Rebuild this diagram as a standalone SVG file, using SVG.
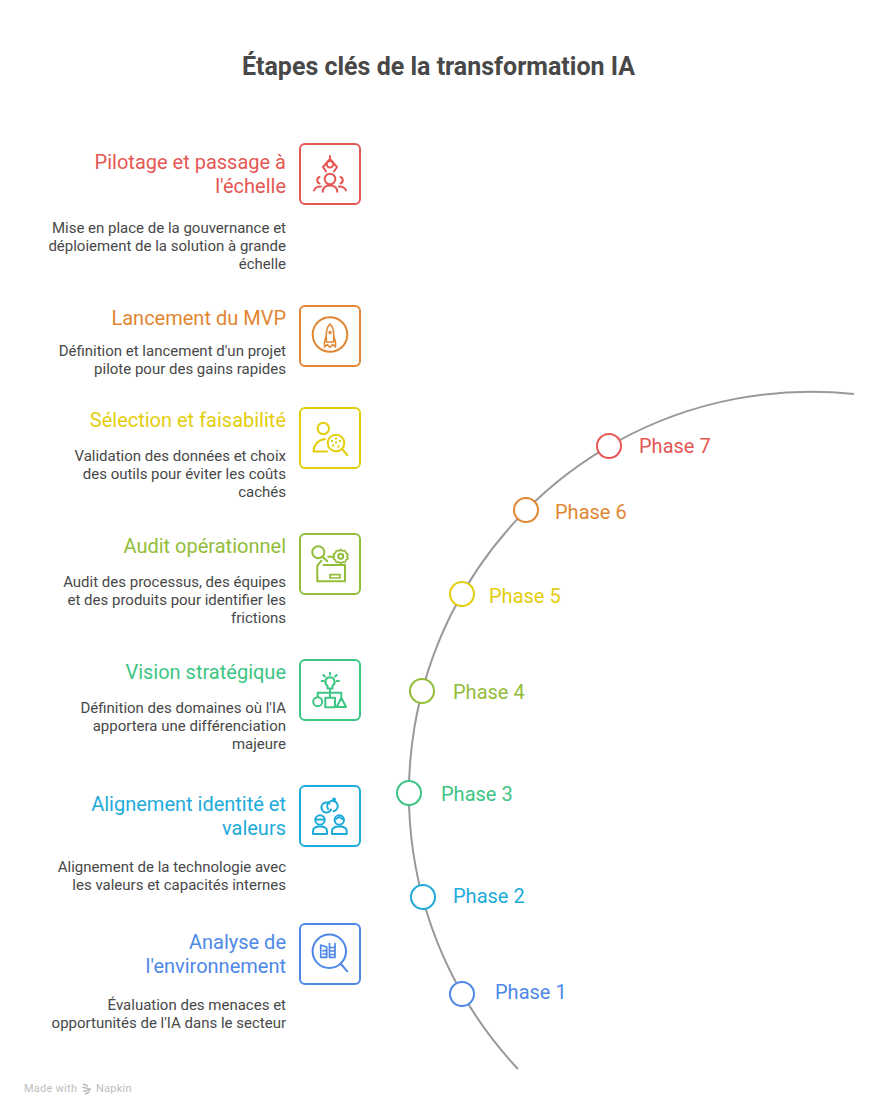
<svg xmlns="http://www.w3.org/2000/svg" width="877" height="1116" viewBox="0 0 877 1116">
<style>
text{font-family:Roboto,"Liberation Sans",sans-serif}
.title{font-size:25px;font-weight:700;fill:#484848;text-anchor:middle}
.h{font-size:20px;text-anchor:end}
.d{font-size:15px;fill:#484848;text-anchor:end}
.p{font-size:20px}
.box{fill:#fff;stroke-width:2}
.ic{fill:none;stroke-width:2;stroke-linecap:round;stroke-linejoin:round}
.dot{fill:#fff;stroke-width:2}
.c1{stroke:#e55753}.c2{stroke:#e18632}.c3{stroke:#e4cd0d}.c4{stroke:#92bd39}.c5{stroke:#3cc583}.c6{stroke:#1eabda}.c7{stroke:#4e88e7}
.t1{fill:#e55753}.t2{fill:#e18632}.t3{fill:#e4cd0d}.t4{fill:#92bd39}.t5{fill:#3cc583}.t6{fill:#1eabda}.t7{fill:#4e88e7}
</style>
<rect width="877" height="1116" fill="#fff"/>
<text class="title" x="438.500" y="75">Étapes clés de la transformation IA</text>
<g id="connectors"><path d="M854 394A402 402 0 0 0 518 1069" fill="none" stroke="#999" stroke-width="2"/></g>

<g id="step-pilotage">
<text class="h t1" x="286" y="169">Pilotage et passage à</text><text class="h t1" x="286" y="193">l'échelle</text>
<text class="d" x="286" y="233">Mise en place de la gouvernance et</text><text class="d" x="286" y="251">déploiement de la solution à grande</text><text class="d" x="286" y="269">échelle</text>
<rect class="box c1" x="300" y="144" width="60" height="60" rx="5"/>
<g class="ic c1" transform="translate(290 135)">
<circle cx="40" cy="29.300" r="3.300"/><path d="M40 21V26M40 24L33 32L36 36.500M40 24L47 32L44 36.500"/>
<circle cx="40" cy="44" r="5.300"/><path d="M32.700 56.700C33 52 36 50.500 40 50.500C44 50.500 47 52 47.300 56.700"/>
<path d="M29.500 42C26.500 43 26.500 47.500 29.500 48.500M50.500 42C53.500 43 53.500 47.500 50.500 48.500M24 55.500C25 52.500 27.500 51.500 31 51.500M56 55.500C55 52.500 52.500 51.500 49 51.500"/>
</g></g>

<g id="step-mvp">
<text class="h t2" x="286" y="325">Lancement du MVP</text>
<text class="d" x="286" y="356">Définition et lancement d'un projet</text><text class="d" x="286" y="374">pilote pour des gains rapides</text>
<rect class="box c2" x="300" y="306" width="60" height="60" rx="5"/>
<g class="ic c2" transform="translate(290 297)">
<circle cx="40" cy="37.500" r="17.300"/>
<path d="M40 27C37 30 36.300 33.500 36.300 37.500V45H43.700V37.500C43.700 33.500 43 30 40 27Z" stroke-width="1.600"/><circle cx="40" cy="35.500" r="1" stroke-width="1.400"/>
<path d="M36.300 39L34.500 45V50L37.300 47.500L40 50.500L42.700 47.500L45.500 50V45L43.700 39" stroke-width="1.600"/>
</g></g>

<g id="step-selection">
<text class="h t3" x="286" y="427">Sélection et faisabilité</text>
<text class="d" x="286" y="461">Validation des données et choix</text><text class="d" x="286" y="479">des outils pour éviter les coûts</text><text class="d" x="286" y="497">cachés</text>
<rect class="box c3" x="300" y="408" width="60" height="60" rx="5"/>
<g class="ic c3" transform="translate(290 398)">
<circle cx="33.300" cy="30.500" r="5.700"/><path d="M23.500 53.500H37M23.500 53.500C23.500 47 28 42 35 41"/>
<circle cx="46" cy="45" r="8.300"/><path d="M52 51L57.300 57"/>
<path d="M42 43v.01M46 40.500v.01M50 43v.01M43 47.500v.01M48.500 48.500v.01M46 44.500v.01" stroke-width="2.400"/>
</g></g>

<g id="step-audit">
<text class="h t4" x="286" y="553">Audit opérationnel</text>
<text class="d" x="286" y="587">Audit des processus, des équipes</text><text class="d" x="286" y="605">et des produits pour identifier les</text><text class="d" x="286" y="623">frictions</text>
<rect class="box c4" x="300" y="534" width="60" height="60" rx="5"/>
<g class="ic c4" transform="translate(290 524)">
<circle cx="28.300" cy="28.300" r="6"/><path d="M32.700 32.700L37.300 37.300M38.300 32.700H42.500"/>
<circle cx="50.700" cy="32.300" r="2.500"/><path d="M50.700 25.500L52.500 27L55 26.500L56 29L58 30.500L57 32.300L58 34.500L56 36L55 38.500L52.500 38L50.700 39.500L48.900 38L46.400 38.500L45.400 36L43.400 34.500L44.400 32.300L43.400 30.500L45.400 29L46.400 26.500L48.900 27Z" stroke-width="1.700"/>
<path d="M31.500 36.700L27.300 41.700V57.300H55V41H33.500"/><path d="M40 50.700H50V54H40Z" stroke-width="1.700"/>
</g></g>

<g id="step-vision">
<text class="h t5" x="286" y="679">Vision stratégique</text>
<text class="d" x="286" y="713">Définition des domaines où l'IA</text><text class="d" x="286" y="731">apportera une différenciation</text><text class="d" x="286" y="749">majeure</text>
<rect class="box c5" x="300" y="660" width="60" height="60" rx="5"/>
<g class="ic c5" transform="translate(290 650)">
<path d="M37.500 36C34 33.500 35 27.300 40 27.300C45 27.300 46 33.500 42.500 36V38.500H37.500ZM40 38.500V42.700"/>
<path d="M40 22.700V24.700M33.300 25L34.800 26.500M46.700 25L45.200 26.500M31.700 31H33.700M49 31H46.700"/>
<path d="M27.700 46.500V42.700H51.300V46.500M40 42.700V47"/>
<circle cx="27.700" cy="51.700" r="4.500"/><rect x="35.300" y="47.700" width="9.700" height="9.500"/><path d="M51.300 47.700L56 57H46.700Z"/>
</g></g>

<g id="step-alignement">
<text class="h t6" x="286" y="811">Alignement identité et</text><text class="h t6" x="286" y="835">valeurs</text>
<text class="d" x="286" y="872">Alignement de la technologie avec</text><text class="d" x="286" y="890">les valeurs et capacités internes</text>
<rect class="box c6" x="300" y="786" width="60" height="60" rx="5"/>
<g class="ic c6" transform="translate(290 776)">
<path d="M39.500 27.500A5 5 0 1 0 41 33.500"/><path d="M38 33A5.300 5.300 0 1 1 43.500 35.300"/><circle cx="44" cy="23.500" r="1"/>
<circle cx="30" cy="44" r="4.700"/><path d="M25.500 43.500H34.500M23 58V55C23 52 26 50.500 30 50.500C34 50.500 37 52 37 55V58Z"/>
<circle cx="49.300" cy="44" r="4.700"/><path d="M46 43L49.300 41L52.500 43M42 58V55C42 52 45 50.500 49.300 50.500C53.500 50.500 56.700 52 56.700 55V58Z"/>
</g></g>

<g id="step-analyse">
<text class="h t7" x="286" y="949">Analyse de</text><text class="h t7" x="286" y="973">l'environnement</text>
<text class="d" x="286" y="1010">Évaluation des menaces et</text><text class="d" x="286" y="1028">opportunités de l'IA dans le secteur</text>
<rect class="box c7" x="300" y="924" width="60" height="60" rx="5"/>
<g class="ic c7" transform="translate(290 914)">
<circle cx="39.300" cy="37.300" r="16.700"/><path d="M50.500 49.500L57.300 57.300"/>
<path d="M30.700 43.300V31L36.700 33V43.300ZM33 36.700H36.700M33 40H36.700" stroke-width="1.700"/>
<path d="M39.500 43.300H45V29.500M39.500 43.300V29.500M39.500 33.500H45M39.500 37H45M39.500 40.500H45" stroke-width="1.700"/>
</g></g>

<g id="phase-7"><circle class="dot c1" cx="609" cy="446" r="12"/><text class="p t1" x="639" y="453">Phase 7</text></g>
<g id="phase-6"><circle class="dot c2" cx="526" cy="510" r="12"/><text class="p t2" x="555" y="519">Phase 6</text></g>
<g id="phase-5"><circle class="dot c3" cx="462" cy="594" r="12"/><text class="p t3" x="489" y="603">Phase 5</text></g>
<g id="phase-4"><circle class="dot c4" cx="422" cy="691" r="12"/><text class="p t4" x="453" y="699">Phase 4</text></g>
<g id="phase-3"><circle class="dot c5" cx="409" cy="793" r="12"/><text class="p t5" x="441" y="801">Phase 3</text></g>
<g id="phase-2"><circle class="dot c6" cx="423" cy="897" r="12"/><text class="p t6" x="453" y="903">Phase 2</text></g>
<g id="phase-1"><circle class="dot c7" cx="462" cy="994" r="12"/><text class="p t7" x="495" y="999">Phase 1</text></g>

<g id="footer">
<text x="24" y="1092" font-size="11" fill="#bdbdbd" letter-spacing=".25">Made with</text>
<path d="M83 1084L88 1086M82.500 1087L91 1089.500M83 1091.500L91 1089.500M85 1094L89.500 1092" stroke="#bdbdbd" stroke-width="1.500" fill="none"/>
<text x="96" y="1092" font-size="11" fill="#bdbdbd" letter-spacing=".25">Napkin</text>
</g>
</svg>
